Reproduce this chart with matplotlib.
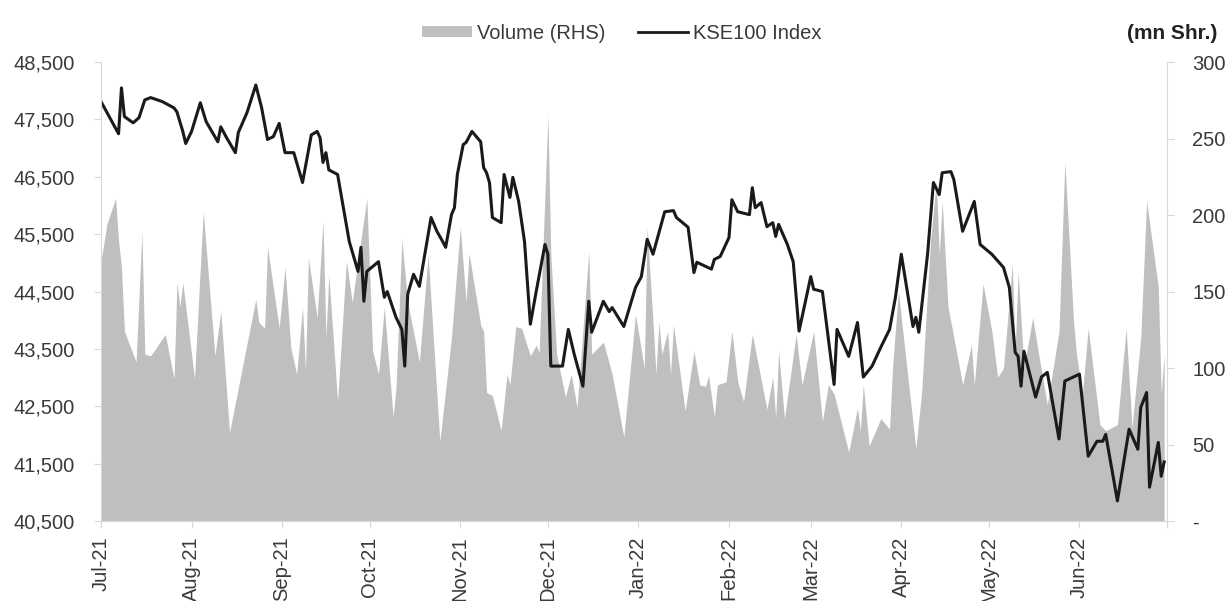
import matplotlib.pyplot as plt
import matplotlib.dates as mdates
from matplotlib.patches import Patch
from matplotlib.lines import Line2D
from matplotlib.ticker import FuncFormatter
import pandas as pd

plt.rcParams['font.family'] = ['Liberation Sans', 'DejaVu Sans']

# KSE100 index
index_dates = [
    "2021-07-01", "2021-07-07", "2021-07-08", "2021-07-09", "2021-07-12", "2021-07-14",
    "2021-07-16", "2021-07-18", "2021-07-22", "2021-07-26", "2021-07-27", "2021-07-29",
    "2021-07-30", "2021-08-01", "2021-08-04", "2021-08-06", "2021-08-10", "2021-08-11",
    "2021-08-13", "2021-08-16", "2021-08-17", "2021-08-20", "2021-08-23", "2021-08-25",
    "2021-08-27", "2021-08-29", "2021-08-31", "2021-09-02", "2021-09-05", "2021-09-08",
    "2021-09-11", "2021-09-13", "2021-09-14", "2021-09-15", "2021-09-16", "2021-09-17",
    "2021-09-20", "2021-09-22", "2021-09-24", "2021-09-27", "2021-09-28", "2021-09-29",
    "2021-09-30", "2021-10-04", "2021-10-06", "2021-10-07", "2021-10-10", "2021-10-12",
    "2021-10-13", "2021-10-14", "2021-10-16", "2021-10-18", "2021-10-22", "2021-10-24",
    "2021-10-26", "2021-10-27", "2021-10-29", "2021-10-30", "2021-10-31", "2021-11-02",
    "2021-11-03", "2021-11-05", "2021-11-08", "2021-11-09", "2021-11-10", "2021-11-11",
    "2021-11-12", "2021-11-15", "2021-11-16", "2021-11-18", "2021-11-19", "2021-11-21",
    "2021-11-23", "2021-11-25", "2021-11-27", "2021-11-30", "2021-12-01", "2021-12-02",
    "2021-12-06", "2021-12-08", "2021-12-10", "2021-12-13", "2021-12-15", "2021-12-16",
    "2021-12-20", "2021-12-22", "2021-12-23", "2021-12-27", "2021-12-31", "2022-01-02",
    "2022-01-04", "2022-01-06", "2022-01-10", "2022-01-13", "2022-01-14", "2022-01-18",
    "2022-01-20", "2022-01-21", "2022-01-26", "2022-01-27", "2022-01-29", "2022-02-01",
    "2022-02-02", "2022-02-04", "2022-02-08", "2022-02-09", "2022-02-10", "2022-02-12",
    "2022-02-14", "2022-02-16", "2022-02-17", "2022-02-18", "2022-02-21", "2022-02-23",
    "2022-02-25", "2022-03-01", "2022-03-02", "2022-03-05", "2022-03-09", "2022-03-10",
    "2022-03-14", "2022-03-17", "2022-03-19", "2022-03-22", "2022-03-25", "2022-03-28",
    "2022-03-30", "2022-04-01", "2022-04-05", "2022-04-06", "2022-04-07", "2022-04-10",
    "2022-04-12", "2022-04-14", "2022-04-15", "2022-04-18", "2022-04-19", "2022-04-22",
    "2022-04-26", "2022-04-28", "2022-05-02", "2022-05-06", "2022-05-08", "2022-05-10",
    "2022-05-11", "2022-05-12", "2022-05-13", "2022-05-17", "2022-05-19", "2022-05-21",
    "2022-05-25", "2022-05-27", "2022-06-01", "2022-06-04", "2022-06-07", "2022-06-09",
    "2022-06-10", "2022-06-14", "2022-06-18", "2022-06-21", "2022-06-22", "2022-06-24",
    "2022-06-25", "2022-06-28", "2022-06-29", "2022-06-30",
]
index_values = [
    47810, 47250, 48050, 47550, 47440, 47530,
    47840, 47880, 47810, 47700, 47630, 47290,
    47080, 47290, 47790, 47460, 47110, 47370,
    47180, 46920, 47270, 47620, 48100, 47700,
    47150, 47200, 47430, 46920, 46920, 46400,
    47230, 47290, 47180, 46750, 46920, 46620,
    46540, 45960, 45370, 44850, 45270, 44330,
    44850, 45020, 44400, 44500, 44050, 43840,
    43200, 44450, 44800, 44590, 45790, 45550,
    45370, 45270, 45840, 45960, 46540, 47060,
    47100, 47290, 47110, 46660, 46570, 46400,
    45790, 45700, 46540, 46140, 46490, 46070,
    45370, 43930, 44500, 45320, 45150, 43200,
    43200, 43840, 43410, 42850, 44330, 43790,
    44330, 44150, 44220, 43890, 44570, 44760,
    45410, 45150, 45890, 45910, 45790, 45620,
    44830, 45010, 44890, 45060, 45110, 45440,
    46100, 45890, 45840, 46310, 45960, 46050,
    45630, 45700, 45460, 45670, 45320, 45020,
    43810, 44760, 44540, 44500, 42880, 43840,
    43370, 43960, 43010, 43200, 43530, 43840,
    44400, 45150, 43890, 44050, 43790, 45150,
    46400, 46190, 46570, 46590, 46450, 45550,
    46070, 45320, 45150, 44920, 44570, 43440,
    43370, 42850, 43460, 42660, 43010, 43090,
    41930, 42940, 43060, 41630, 41890, 41890,
    42010, 40850, 42100, 41750, 42480, 42740,
    41090, 41870, 41280, 41530,
]

# Volume in mn shares
volume_dates = [
    "2021-07-01", "2021-07-03", "2021-07-06", "2021-07-07", "2021-07-08", "2021-07-09",
    "2021-07-13", "2021-07-15", "2021-07-16", "2021-07-18", "2021-07-23", "2021-07-26",
    "2021-07-27", "2021-07-28", "2021-07-29", "2021-08-02", "2021-08-05", "2021-08-09",
    "2021-08-11", "2021-08-14", "2021-08-17", "2021-08-23", "2021-08-24", "2021-08-26",
    "2021-08-27", "2021-08-31", "2021-09-02", "2021-09-04", "2021-09-06", "2021-09-08",
    "2021-09-09", "2021-09-10", "2021-09-13", "2021-09-15", "2021-09-16", "2021-09-17",
    "2021-09-20", "2021-09-23", "2021-09-25", "2021-09-30", "2021-10-02", "2021-10-04",
    "2021-10-06", "2021-10-09", "2021-10-10", "2021-10-12", "2021-10-14", "2021-10-18",
    "2021-10-21", "2021-10-25", "2021-10-29", "2021-11-01", "2021-11-03", "2021-11-04",
    "2021-11-08", "2021-11-09", "2021-11-10", "2021-11-12", "2021-11-15", "2021-11-17",
    "2021-11-18", "2021-11-20", "2021-11-22", "2021-11-25", "2021-11-27", "2021-11-28",
    "2021-12-01", "2021-12-02", "2021-12-04", "2021-12-07", "2021-12-09", "2021-12-11",
    "2021-12-15", "2021-12-16", "2021-12-20", "2021-12-23", "2021-12-27", "2021-12-31",
    "2022-01-03", "2022-01-04", "2022-01-06", "2022-01-07", "2022-01-08", "2022-01-09",
    "2022-01-11", "2022-01-12", "2022-01-13", "2022-01-17", "2022-01-20", "2022-01-22",
    "2022-01-24", "2022-01-25", "2022-01-27", "2022-01-28", "2022-01-31", "2022-02-02",
    "2022-02-04", "2022-02-06", "2022-02-09", "2022-02-14", "2022-02-16", "2022-02-17",
    "2022-02-18", "2022-02-20", "2022-02-24", "2022-02-26", "2022-03-02", "2022-03-05",
    "2022-03-07", "2022-03-09", "2022-03-14", "2022-03-17", "2022-03-18", "2022-03-19",
    "2022-03-21", "2022-03-25", "2022-03-28", "2022-03-29", "2022-03-31", "2022-04-06",
    "2022-04-08", "2022-04-11", "2022-04-13", "2022-04-14", "2022-04-15", "2022-04-17",
    "2022-04-19", "2022-04-22", "2022-04-25", "2022-04-26", "2022-04-29", "2022-05-02",
    "2022-05-04", "2022-05-06", "2022-05-09", "2022-05-10", "2022-05-11", "2022-05-13",
    "2022-05-16", "2022-05-19", "2022-05-21", "2022-05-25", "2022-05-27", "2022-05-30",
    "2022-05-31", "2022-06-02", "2022-06-04", "2022-06-08", "2022-06-10", "2022-06-14",
    "2022-06-17", "2022-06-19", "2022-06-22", "2022-06-24", "2022-06-28", "2022-06-29",
    "2022-06-30",
]
volume_values = [
    170, 194, 211, 183, 166, 124,
    104, 189, 109, 108, 122, 93,
    156, 140, 156, 93, 202, 108,
    137, 58, 87, 145, 130, 126,
    179, 126, 166, 113, 96, 140,
    98, 172, 133, 196, 120, 161,
    78, 170, 143, 211, 111, 96,
    140, 68, 87, 184, 143, 104,
    174, 52, 120, 192, 143, 175,
    128, 124, 84, 82, 59, 96,
    89, 127, 126, 108, 115, 110,
    265, 174, 109, 81, 96, 74,
    176, 109, 117, 96, 55, 135,
    100, 192, 130, 96, 130, 109,
    124, 96, 128, 72, 111, 89,
    88, 95, 68, 89, 91, 124,
    91, 78, 122, 73, 94, 67,
    111, 67, 122, 89, 124, 65,
    89, 83, 45, 74, 59, 89,
    49, 67, 60, 100, 150, 47,
    85, 183, 222, 174, 209, 140,
    120, 89, 115, 89, 155, 124,
    94, 100, 168, 111, 163, 100,
    133, 98, 76, 124, 235, 130,
    109, 83, 126, 63, 59, 63,
    126, 61, 120, 209, 153, 83,
    109,
]

index_x = pd.to_datetime(index_dates)
volume_x = pd.to_datetime(volume_dates)
x_start = pd.Timestamp("2021-07-01")
x_end = pd.Timestamp("2022-07-01")

fig = plt.figure(figsize=(12.29, 6.01), dpi=100)
ax = fig.add_axes([0.0822, 0.1331, 0.8674, 0.7637])
ax2 = ax.twinx()

# volume area on the right axis, index line drawn on top
ax2.fill_between(volume_x, volume_values, 0, color="#bfbfbf", linewidth=0)
ax.set_zorder(ax2.get_zorder() + 1)
ax.patch.set_visible(False)
ax.plot(index_x, index_values, color="#1a1a1a", linewidth=2.2)

ax.set_xlim(x_start, x_end)
ax.set_ylim(40500, 48500)
ax.set_yticks(range(40500, 48501, 1000))
ax.yaxis.set_major_formatter(FuncFormatter(lambda v, p: f"{int(v):,}"))
ax2.set_ylim(0, 300)
ax2.set_yticks(range(0, 301, 50))
ax2.yaxis.set_major_formatter(FuncFormatter(lambda v, p: "-" if v == 0 else f"{int(v)}"))

# month ticks, no label on the closing tick
ax.xaxis.set_major_locator(mdates.MonthLocator())
ax.xaxis.set_major_formatter(FuncFormatter(
    lambda v, p: "" if mdates.num2date(v).replace(tzinfo=None) >= x_end
    else mdates.num2date(v).strftime("%b-%y")))
plt.setp(ax.get_xticklabels(), rotation=90)

spine_color = "#d9d9d9"
text_color = "#3a3a3a"
for a in (ax, ax2):
    a.spines["top"].set_visible(False)
    for s in ("left", "right", "bottom"):
        a.spines[s].set_color(spine_color)
    a.tick_params(colors=spine_color, labelcolor=text_color, labelsize=14.5, length=5)
ax.spines["right"].set_visible(False)
ax2.spines["left"].set_visible(False)
ax.tick_params(axis="y", pad=14)
ax2.tick_params(axis="y", pad=13)
ax.tick_params(axis="x", pad=6)

# legend and unit label
handles = [Patch(facecolor="#bfbfbf", edgecolor="none", label="Volume (RHS)"),
           Line2D([0], [0], color="#1a1a1a", linewidth=2.0, label="KSE100 Index")]
fig.legend(handles=handles, loc="center", bbox_to_anchor=(0.506, 0.945), ncol=2,
           frameon=False, fontsize=14.5, handlelength=2.5, handleheight=0.5,
           handletextpad=0.25, columnspacing=1.6, labelcolor=text_color)
fig.text(0.9905, 0.945, "(mn Shr.)", ha="right", va="center", fontsize=15,
         fontweight="bold", color="#222222")

fig.savefig("out.png", dpi=100)
